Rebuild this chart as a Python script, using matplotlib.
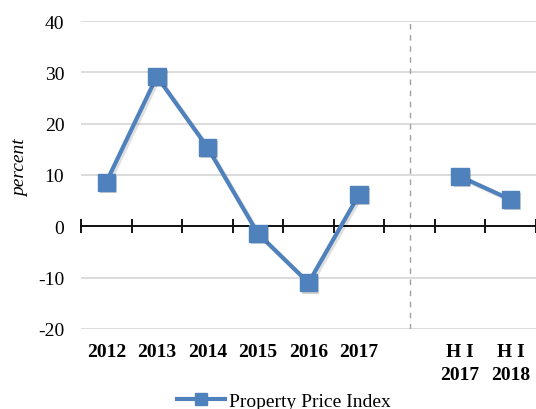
import numpy as np
import matplotlib
matplotlib.use("Agg")
import matplotlib.pyplot as plt
import matplotlib.patheffects as pe
from matplotlib.lines import Line2D

# --- data ---
categories = ["2012", "2013", "2014", "2015", "2016", "2017", "", "H I\n2017", "H I\n2018"]
ppi = [8.6, 29.2, 15.4, -1.4, -11.0, 6.2, np.nan, 9.7, 5.2]
yticks = [-20, -10, 0, 10, 20, 30, 40]
split_at = 6  # empty slot between annual and half-year values

blue = "#4F81BD"
plt.rcParams["font.family"] = ["Liberation Serif", "DejaVu Serif"]
plt.rcParams["axes.unicode_minus"] = False

fig = plt.figure(figsize=(5.36, 4.10), dpi=100)
ax = fig.add_axes([81 / 536, 80 / 410, 455 / 536, 308 / 410])

x = np.arange(len(categories))
ax.set_xlim(-0.5, len(categories) - 0.5)
ax.set_ylim(-20, 40)

# grid + zero axis
ax.set_yticks(yticks)
ax.yaxis.grid(True, color="#D9D9D9", lw=1.3)
ax.set_axisbelow(True)
for s in ["top", "right", "left"]:
    ax.spines[s].set_visible(False)
ax.spines["bottom"].set_position(("data", 0))
ax.spines["bottom"].set_linewidth(1.3)
ax.set_xticks(np.arange(-0.5, len(categories)))
ax.set_xticklabels([])
ax.tick_params(axis="x", direction="inout", length=10, width=1.3, color="black")
ax.tick_params(axis="y", length=0, pad=12, labelsize=14)

# category labels at the bottom of the plot area
for xi, lab in zip(x, categories):
    ax.text(xi, -0.045, lab, transform=ax.get_xaxis_transform(), ha="center", va="top",
            fontsize=14, fontweight="bold", linespacing=1.45)

ax.axvline(split_at, color="#A0A0A0", lw=1, ls=(0, (4, 4)))

# series with soft shadow
ax.plot(x, ppi, color=blue, lw=3, solid_capstyle="round", zorder=3,
        path_effects=[pe.SimpleLineShadow(offset=(1.5, -1.5), alpha=0.12, shadow_color="black"), pe.Normal()])
ax.plot(x, ppi, ls="none", marker="s", ms=12.5, color=blue, zorder=4,
        path_effects=[pe.SimplePatchShadow(offset=(1.5, -1.5), alpha=0.18, shadow_rgbFace="black"), pe.Normal()])

ax.set_ylabel("percent", fontsize=14, style="italic")
ax.yaxis.set_label_coords(-0.115, 0.526)

handle = Line2D([], [], color=blue, lw=3, marker="s", ms=9)
fig.legend([handle], ["Property Price Index"], loc="center", bbox_to_anchor=(284 / 536, 8 / 410),
           frameon=False, fontsize=14, handlelength=2.5, handletextpad=0.2, borderpad=0)

fig.savefig("out.png", dpi=100)
